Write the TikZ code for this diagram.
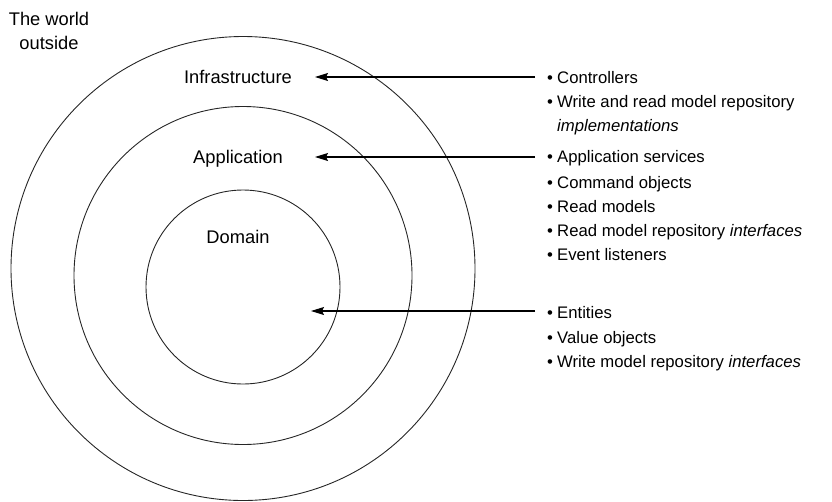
\documentclass[tikz,border=0pt]{standalone}
\usepackage{fontspec}
\setmainfont{Liberation Sans}
\usetikzlibrary{arrows.meta}
\newcommand\bul{\makebox[10pt][l]{•}}
\begin{document}
\begin{tikzpicture}[x=1pt,y=-1pt,
  ring/.style={draw=black!85, line width=0.9pt},
  lbl/.style={font=\fontsize{18.3}{24}\selectfont, inner sep=0pt, anchor=mid},
  item/.style={font=\fontsize{16.7}{24}\selectfont, inner sep=0pt, anchor=mid west},
  arr/.style={draw=black, line width=1.1pt, -{Stealth[length=13pt,width=8pt,inset=2pt]}}]
\useasboundingbox (0,0) rectangle (832,501);
% rings
\draw[ring] (243,268.5) circle[radius=232];
\draw[ring] (243,275.5) circle[radius=169];
\draw[ring] (243,287) circle[radius=97];
% labels
\node[font=\fontsize{18.3}{24}\selectfont, inner sep=0pt, align=center, anchor=center] (world) at (49,31) {The world\\outside};
\node[lbl] (infra) at (238,81) {Infrastructure};
\node[lbl] (app) at (238,161) {Application};
\node[lbl] (dom) at (238,241) {Domain};
% lists
\node[item] (c1) at (547,81) {\bul Controllers};
\node[item] (c2) at (547,105) {\bul Write and read model repository};
\node[item] (c3) at (547,129) {\hspace*{10pt}\textit{implementations}};
\node[item] (a1) at (547,160) {\bul Application services};
\node[item] (a2) at (547,186) {\bul Command objects};
\node[item] (a3) at (547,210) {\bul Read models};
\node[item] (a4) at (547,234) {\bul Read model repository \textit{interfaces}};
\node[item] (a5) at (547,258) {\bul Event listeners};
\node[item] (d1) at (547,316) {\bul Entities};
\node[item] (d2) at (547,341) {\bul Value objects};
\node[item] (d3) at (547,365) {\bul Write model repository \textit{interfaces}};
% arrows
\coordinate (t1) at (315,77);
\coordinate (t2) at (315,157);
\coordinate (t3) at (311,311);
\coordinate (s1) at (535,77);
\coordinate (s2) at (535,157);
\coordinate (s3) at (535,311);
\draw[arr] (s1) -- (t1);
\draw[arr] (s2) -- (t2);
\draw[arr] (s3) -- (t3);
\end{tikzpicture}
\end{document}
